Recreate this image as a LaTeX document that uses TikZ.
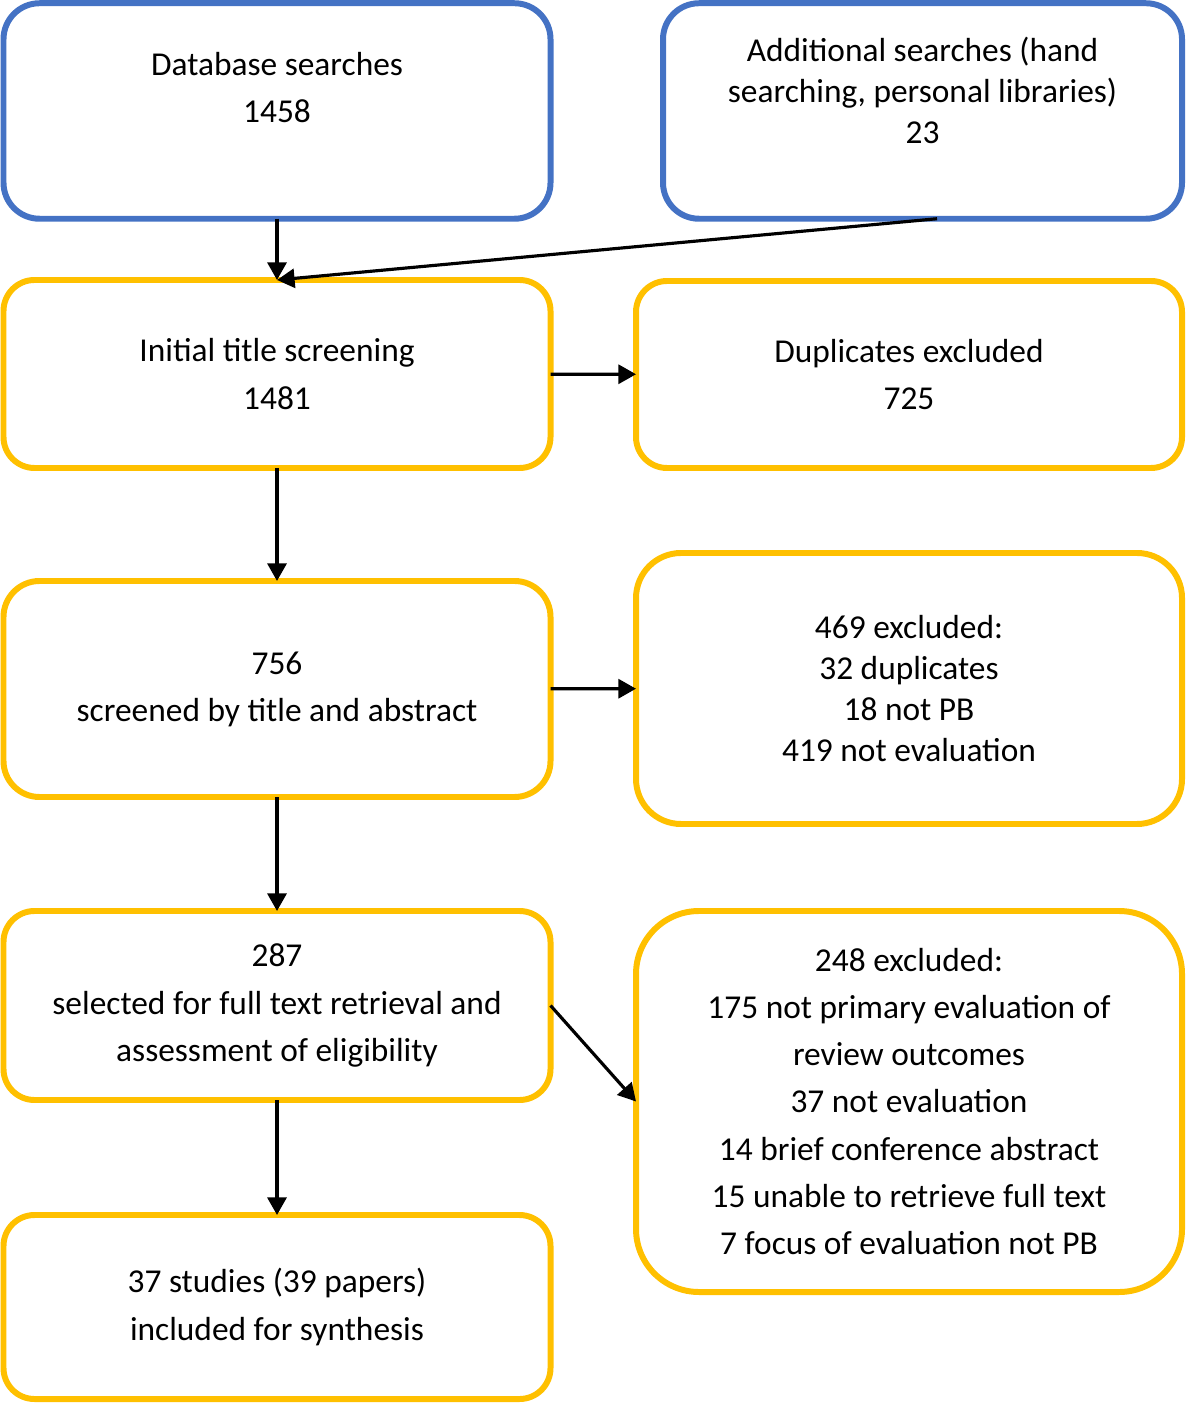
\documentclass[tikz,border=0pt]{standalone}
\usepackage{fontspec}
\setmainfont{Carlito}
\usepackage{tikz}
\usetikzlibrary{arrows.meta, calc}
\definecolor{srcblue}{HTML}{4472C4}
\definecolor{stagegold}{HTML}{FFC000}

\begin{document}
\begin{tikzpicture}[
    srcbox/.style={rectangle, draw=srcblue, line width=1.7pt, rounded corners=#1, align=center, outer sep=0pt, font=\fontsize{9.5}{13.4}\selectfont},
    stagebox/.style={rectangle, draw=stagegold, line width=1.7pt, rounded corners=#1, align=center, outer sep=0pt, font=\fontsize{9.5}{13.4}\selectfont},
    tight/.style={font=\fontsize{9.5}{11.7}\selectfont},
    flow/.style={-{Triangle[length=5pt, width=5.4pt]}, line width=0.9pt}
]
\useasboundingbox (0,0) rectangle (11.88,-14.07);

% Sources
\node[srcbox=0.36cm, minimum width=5.47cm, minimum height=2.155cm] (db) at (2.77,-1.11) {Database searches\\1458\\~};
\node[srcbox=0.36cm, minimum width=5.19cm, minimum height=2.155cm, tight] (add) at (9.225,-1.11) {Additional searches (hand\\searching, personal libraries)\\23\\~};

% Screening stages
\node[stagebox=0.31cm, minimum width=5.47cm, minimum height=1.88cm] (init) at (2.77,-3.74) {Initial title screening\\1481};
\node[stagebox=0.36cm, minimum width=5.47cm, minimum height=2.16cm] (s756) at (2.77,-6.89) {756\\screened by title and abstract};
\node[stagebox=0.31cm, minimum width=5.47cm, minimum height=1.89cm] (s287) at (2.77,-10.055) {287\\selected for full text retrieval and\\assessment of eligibility};
\node[stagebox=0.31cm, minimum width=5.47cm, minimum height=1.84cm] (s37) at (2.77,-13.07) {37 studies (39 papers)\\included for synthesis};

% Exclusions
\node[stagebox=0.31cm, minimum width=5.46cm, minimum height=1.87cm] (dup) at (9.09,-3.745) {Duplicates excluded\\725};
\node[stagebox=0.45cm, minimum width=5.46cm, minimum height=2.71cm, tight] (ex469) at (9.09,-6.885) {469 excluded:\\32 duplicates\\18 not PB\\419 not evaluation};
\node[stagebox=0.63cm, minimum width=5.46cm, minimum height=3.81cm] (ex248) at (9.09,-11.015) {248 excluded:\\175 not primary evaluation of\\review outcomes\\37 not evaluation\\14 brief conference abstract\\15 unable to retrieve full text\\7 focus of evaluation not PB};

% Arrows
\draw[flow] (db) -- (init);
\draw[flow] ($(add.south)+(0.145,0)$) -- (init.north);
\draw[flow] (init) -- (dup);
\draw[flow] (init) -- (s756);
\draw[flow] (s756) -- (ex469);
\draw[flow] (s756) -- (s287);
\draw[flow] (s287.east) -- (ex248.west);
\draw[flow] (s287) -- (s37);

\end{tikzpicture}
\end{document}
